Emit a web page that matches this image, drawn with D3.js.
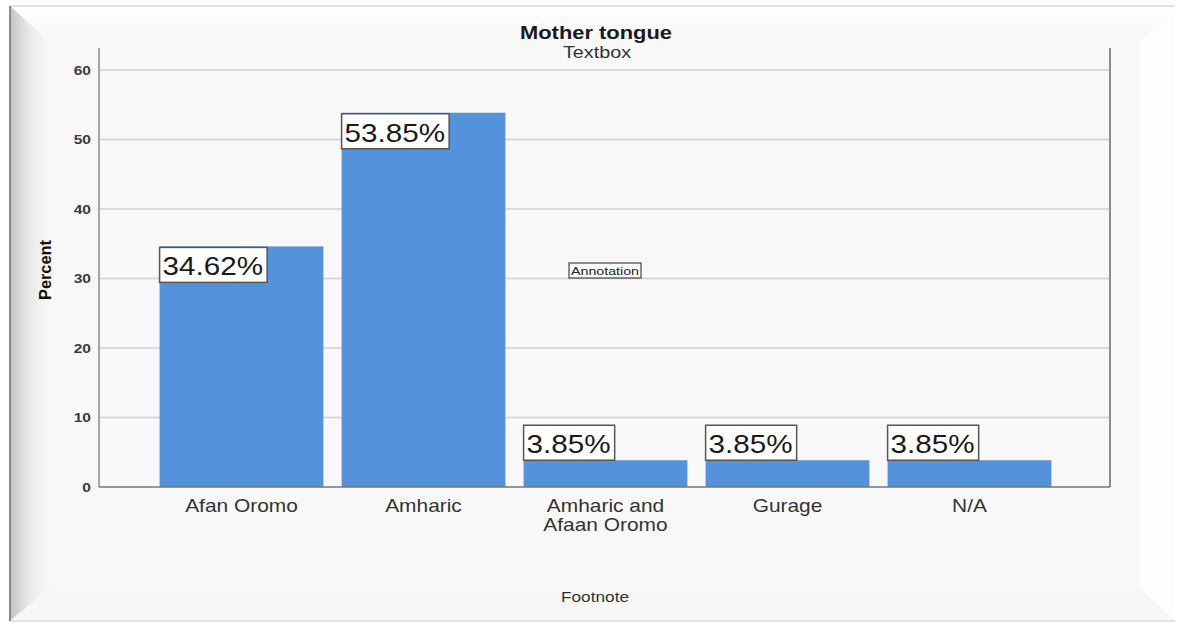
<!DOCTYPE html>
<html>
<head>
<meta charset="utf-8">
<script src="https://cdn.jsdelivr.net/npm/d3@7"></script>
<style>
  html, body { margin: 0; padding: 0; background: #ffffff; }
  svg { display: block; font-family: "Liberation Sans", Arial, sans-serif; }
</style>
</head>
<body>
<svg id="chart" width="1177" height="623"></svg>
<script>
// Mother tongue distribution (percent of respondents)
const categories = ["Afan Oromo", "Amharic", "Amharic and Afaan Oromo", "Gurage", "N/A"];
const categoryLines = [["Afan Oromo"], ["Amharic"], ["Amharic and", "Afaan Oromo"], ["Gurage"], ["N/A"]];
const percents = [34.62, 53.85, 3.85, 3.85, 3.85];
const yTicks = [0, 10, 20, 30, 40, 50, 60];

const svg = d3.select("#chart");
const W = 1177, H = 623;
const STRETCH = 1.14; // text is drawn slightly wide

// widen a text element horizontally by a factor
function widen(sel, k) {
  sel.each(function () {
    const w = this.getComputedTextLength();
    d3.select(this).attr("textLength", w * k).attr("lengthAdjust", "spacingAndGlyphs");
  });
}

// ---- beveled frame ----
const defs = svg.append("defs");
const gl = defs.append("linearGradient").attr("id", "bevelLeft").attr("x1", 0).attr("x2", 1).attr("y1", 0).attr("y2", 0);
gl.append("stop").attr("offset", 0).attr("stop-color", "#c4c4c4");
gl.append("stop").attr("offset", 0.5).attr("stop-color", "#eaeaea");
gl.append("stop").attr("offset", 1).attr("stop-color", "#f8f8f8");
const gt = defs.append("linearGradient").attr("id", "bevelTop").attr("x1", 0).attr("x2", 0).attr("y1", 0).attr("y2", 1);
gt.append("stop").attr("offset", 0).attr("stop-color", "#ffffff");
gt.append("stop").attr("offset", 1).attr("stop-color", "#f6f6f6");

const fx0 = 10, fy0 = 6, fx1 = 1175, fy1 = 621;
const ix0 = 50, iy0 = 42, ix1 = 1140, iy1 = 588;

svg.append("rect").attr("x", 0).attr("y", 0).attr("width", W).attr("height", H).attr("fill", "#ffffff");
svg.append("rect").attr("x", fx0).attr("y", fy0).attr("width", fx1 - fx0).attr("height", fy1 - fy0).attr("fill", "#fbfbfb");
svg.append("path").attr("d", `M${fx0},${fy0} L${fx1},${fy0} L${ix1},${iy0} L${ix0},${iy0} Z`).attr("fill", "url(#bevelTop)");
svg.append("path").attr("d", `M${fx0},${fy0} L${ix0},${iy0} L${ix0},${iy1} L${fx0},${fy1} Z`).attr("fill", "url(#bevelLeft)");
svg.append("path").attr("d", `M${fx1},${fy0} L${fx1},${fy1} L${ix1},${iy1} L${ix1},${iy0} Z`).attr("fill", "#fdfdfd");
svg.append("path").attr("d", `M${fx0},${fy1} L${fx1},${fy1} L${ix1},${iy1} L${ix0},${iy1} Z`).attr("fill", "#f7f7f7");
svg.append("rect").attr("x", ix0).attr("y", iy0).attr("width", ix1 - ix0).attr("height", iy1 - iy0).attr("fill", "#f8f8f8");
svg.append("line").attr("x1", fx0).attr("x2", fx1).attr("y1", fy0).attr("y2", fy0).attr("stroke", "#d8d8d8").attr("stroke-width", 1.5);
svg.append("line").attr("x1", fx0).attr("x2", fx1).attr("y1", fy1).attr("y2", fy1).attr("stroke", "#d8d8d8").attr("stroke-width", 1.5);
svg.append("line").attr("x1", fx0).attr("x2", fx0).attr("y1", fy0).attr("y2", fy1).attr("stroke", "#8a8a8a").attr("stroke-width", 2);

// ---- plot ----
const plotLeft = 99, plotRight = 1110, plotTop = 48, plotBottom = 487;

const y = d3.scaleLinear().domain([0, 60]).range([487, 70]);
const x = d3.scaleBand().domain(categories).range([150.5, 1060.5]).paddingInner(0.1).paddingOuter(0.05);

// gridlines
svg.append("g").selectAll("line").data(yTicks.filter(d => d > 0)).join("line")
  .attr("x1", plotLeft).attr("x2", plotRight)
  .attr("y1", d => y(d)).attr("y2", d => y(d))
  .attr("stroke", "#d0d0d0").attr("stroke-width", 1.5);

// bars
svg.append("g").selectAll("rect").data(percents).join("rect")
  .attr("x", (d, i) => x(categories[i]))
  .attr("y", d => y(d))
  .attr("width", x.bandwidth())
  .attr("height", d => y(0) - y(d))
  .attr("fill", "#5592dc");

// plot frame lines
svg.append("line").attr("x1", plotLeft).attr("x2", plotLeft).attr("y1", plotTop).attr("y2", plotBottom).attr("stroke", "#8c8c8c").attr("stroke-width", 1.5);
svg.append("line").attr("x1", plotRight).attr("x2", plotRight).attr("y1", plotTop).attr("y2", plotBottom).attr("stroke", "#8c8c8c").attr("stroke-width", 2);
svg.append("line").attr("x1", plotLeft).attr("x2", plotRight).attr("y1", plotBottom).attr("y2", plotBottom).attr("stroke", "#777777").attr("stroke-width", 1.5);

// y axis tick labels
const yAxis = d3.axisLeft(y).tickValues(yTicks).tickSize(0).tickPadding(8).tickFormat(d3.format("d"));
const yg = svg.append("g").attr("transform", `translate(${plotLeft},0)`).call(yAxis);
yg.select(".domain").remove();
yg.selectAll("text").attr("font-size", 13.5).attr("font-weight", "bold").attr("fill", "#3a3a3a")
  .attr("font-family", "'Liberation Sans', Arial, sans-serif");
widen(yg.selectAll("text"), 1.15);

// x category labels
const xl = svg.append("g");
categoryLines.forEach((lines, i) => {
  const cx = x(categories[i]) + x.bandwidth() / 2;
  lines.forEach((ln, j) => {
    xl.append("text").attr("x", cx).attr("y", 512 + j * 19)
      .attr("text-anchor", "middle").attr("font-size", 19).attr("fill", "#333333")
      .text(ln);
  });
});
widen(xl.selectAll("text"), 1.1);

// value labels: boxed, sized to their text
const fmt = d => d.toFixed(2) + "%";
const boxH = 35;
const lbl = svg.append("g");
percents.forEach((d, i) => {
  const bx = x(categories[i]);
  const barTop = y(d);
  const by = (y(0) - barTop) > 60 ? barTop + 1 : barTop - boxH;
  const box = lbl.append("rect").attr("x", bx).attr("y", by).attr("height", boxH)
    .attr("fill", "#ffffff").attr("stroke", "#555555").attr("stroke-width", 1.5);
  const t = lbl.append("text").attr("x", bx + 3).attr("y", by + 28)
    .attr("font-size", 26).attr("fill", "#1a1a1a").text(fmt(d));
  const tw = t.node().getComputedTextLength() * STRETCH;
  t.attr("textLength", tw).attr("lengthAdjust", "spacingAndGlyphs");
  box.attr("width", tw + 7);
});

// annotation
svg.append("rect").attr("x", 569).attr("y", 263).attr("width", 72).attr("height", 15)
  .attr("fill", "#ffffff").attr("stroke", "#444444").attr("stroke-width", 1.2);
svg.append("text").attr("x", 605).attr("y", 275).attr("text-anchor", "middle")
  .attr("font-size", 11).attr("fill", "#222222")
  .attr("textLength", 68).attr("lengthAdjust", "spacingAndGlyphs").text("Annotation");

// title and subtitle
svg.append("text").attr("x", 596).attr("y", 39).attr("text-anchor", "middle")
  .attr("font-size", 18).attr("font-weight", "bold").attr("fill", "#1a1a1a")
  .attr("textLength", 152).attr("lengthAdjust", "spacingAndGlyphs").text("Mother tongue");
svg.append("text").attr("x", 597).attr("y", 58).attr("text-anchor", "middle")
  .attr("font-size", 16).attr("fill", "#333333")
  .attr("textLength", 68).attr("lengthAdjust", "spacingAndGlyphs").text("Textbox");

// y axis title
svg.append("text").attr("transform", "translate(51,270) rotate(-90)").attr("text-anchor", "middle")
  .attr("font-size", 17).attr("font-weight", "bold").attr("fill", "#111111")
  .attr("textLength", 60).attr("lengthAdjust", "spacingAndGlyphs").text("Percent");

// footnote
svg.append("text").attr("x", 595).attr("y", 602).attr("text-anchor", "middle")
  .attr("font-size", 14).attr("fill", "#333333")
  .attr("textLength", 68).attr("lengthAdjust", "spacingAndGlyphs").text("Footnote");
</script>
</body>
</html>
